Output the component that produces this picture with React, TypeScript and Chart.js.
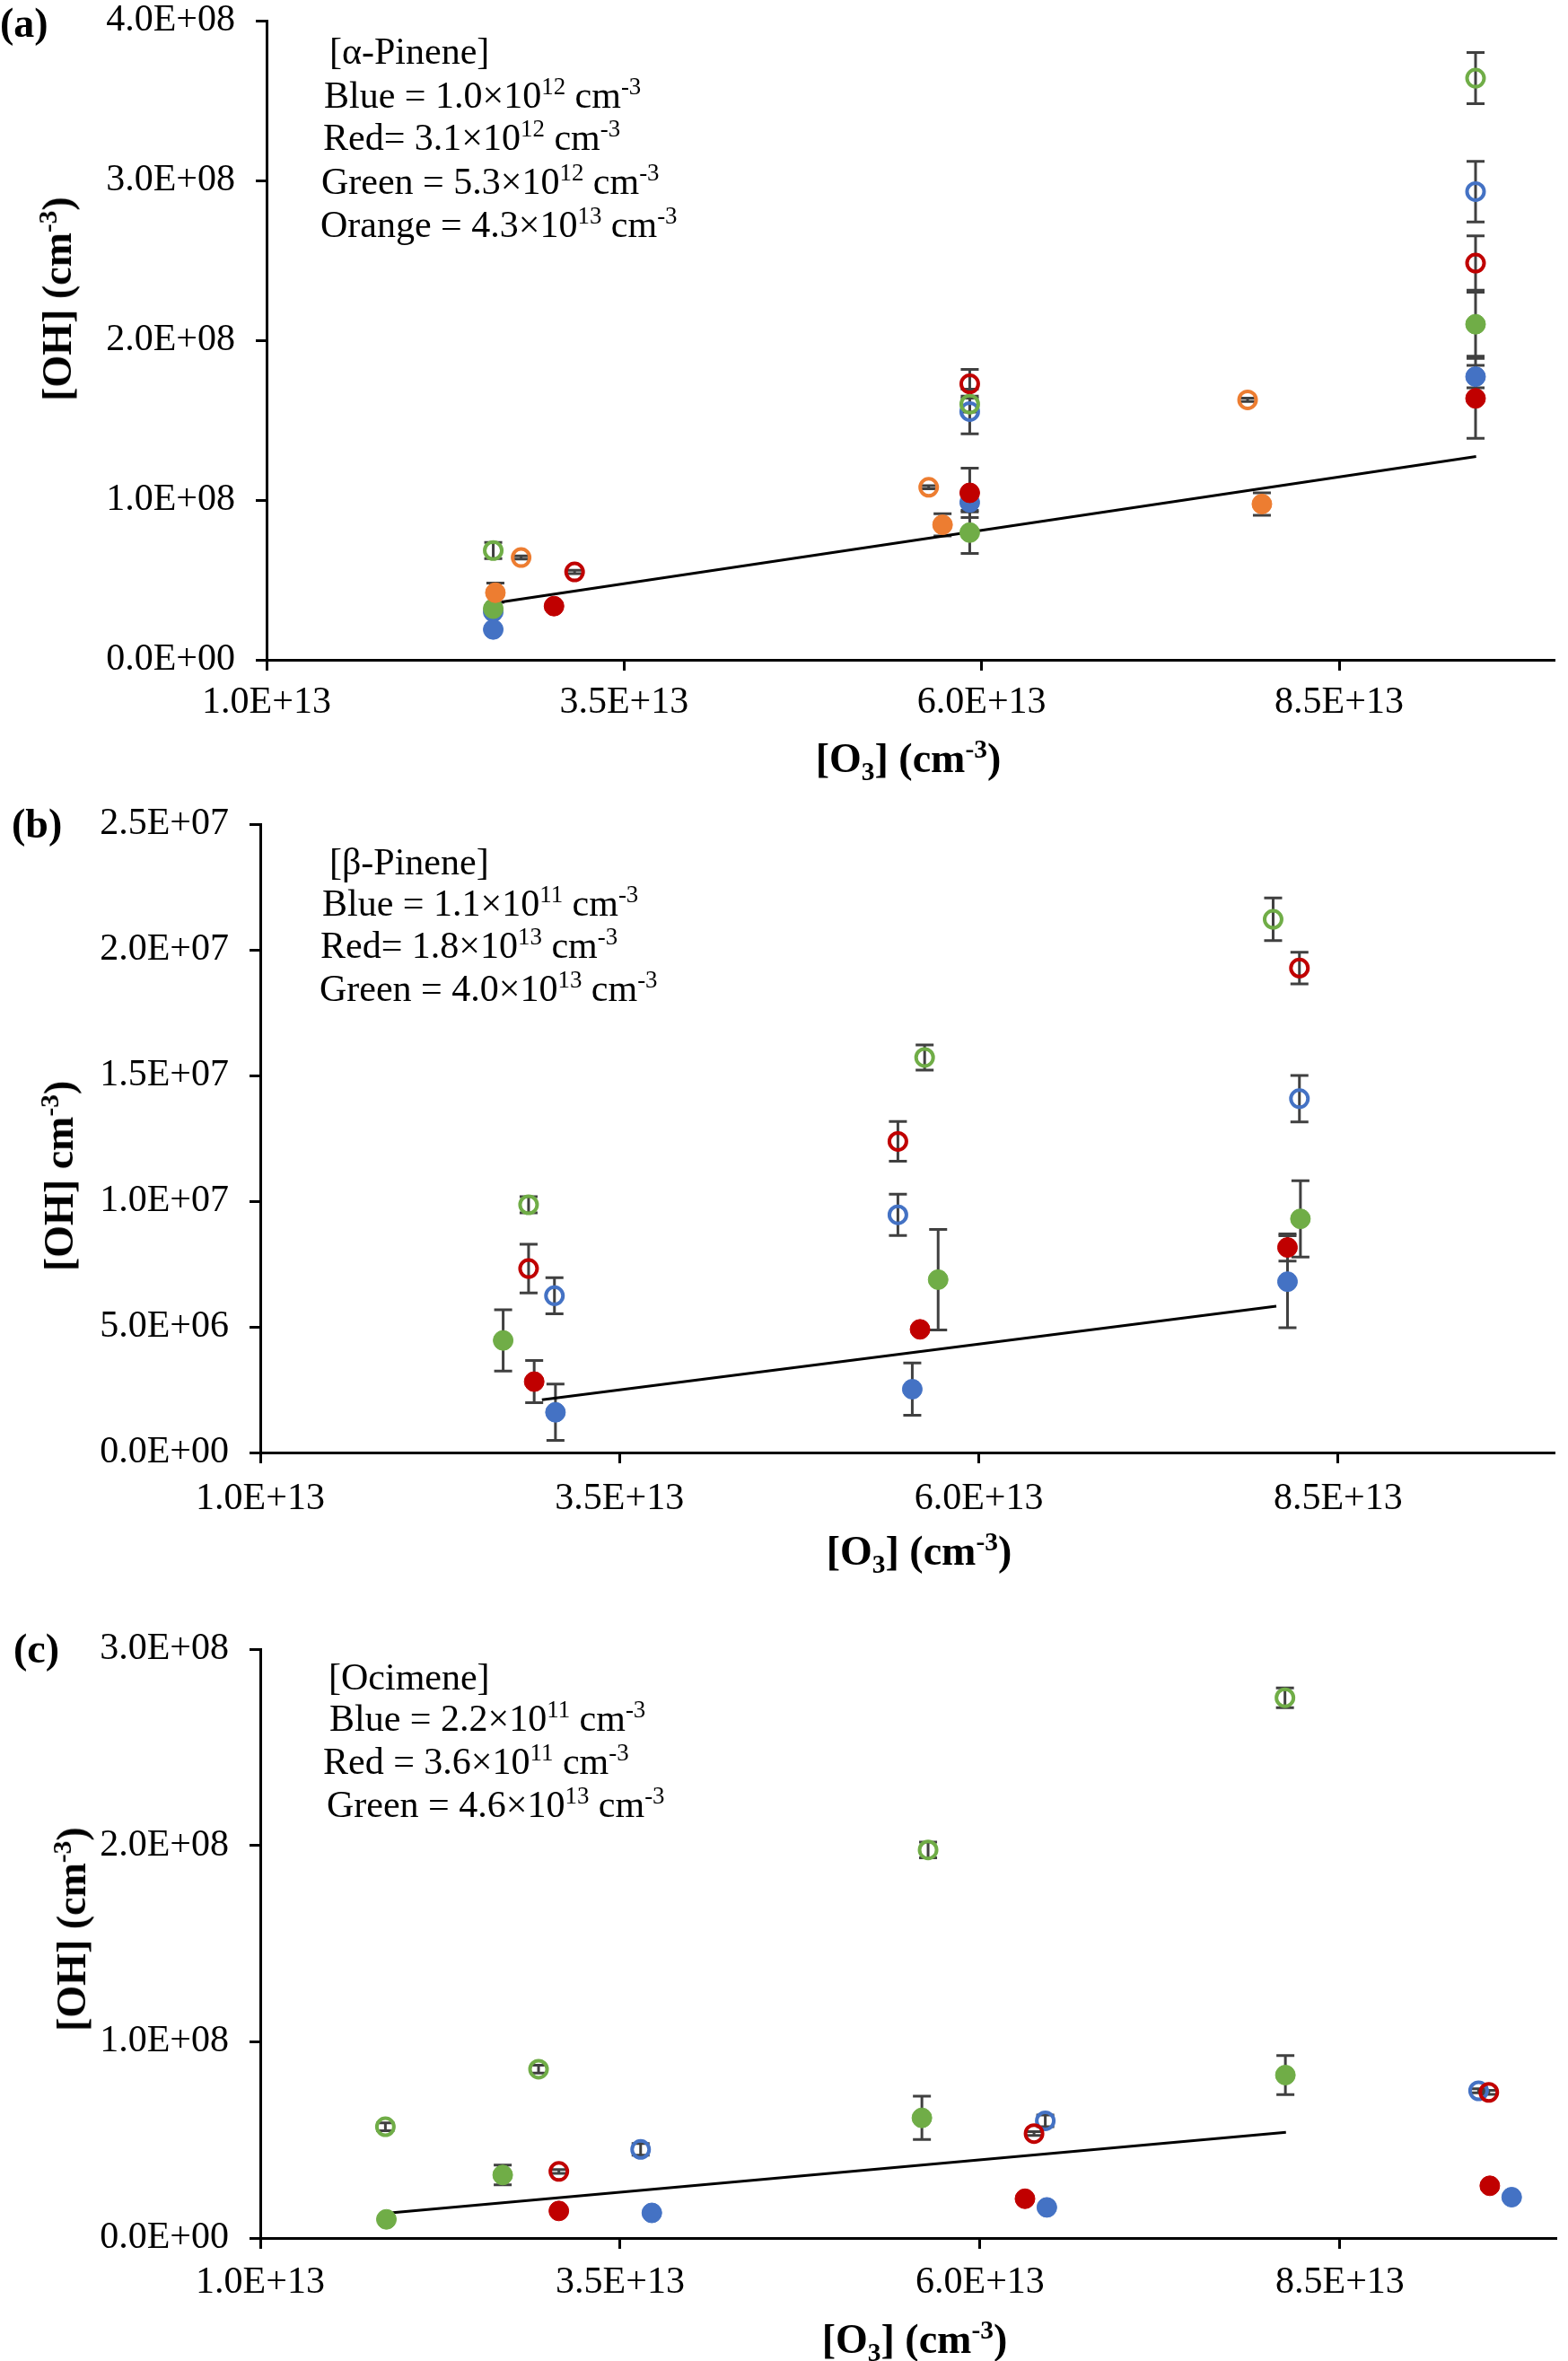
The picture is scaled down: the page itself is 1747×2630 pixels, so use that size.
import React, { useEffect, useRef } from 'react';
import { Chart, registerables } from 'chart.js';

Chart.register(...registerables);

// ---------------- DATA ----------------
const X_MIN = 1e13;
const X_MAX = 1e14;
const X_TICKS = [1e13, 3.5e13, 6e13, 8.5e13];

// Panel (a) alpha-pinene
const A_Y_TICKS = [0, 1e8, 2e8, 3e8, 4e8];
const A_BLUE_FILLED_X = [2.585e13, 2.585e13, 5.917e13, 9.454e13];
const A_BLUE_FILLED_Y = [0.30e8, 0.19e8, 0.985e8, 1.772e8];
const A_BLUE_FILLED_E = [0.01e8, 0.01e8, 0.05e8, 0.07e8];
const A_BLUE_OPEN_X = [5.917e13, 9.454e13];
const A_BLUE_OPEN_Y = [1.554e8, 2.93e8];
const A_BLUE_OPEN_E = [0.14e8, 0.19e8];
const A_RED_FILLED_X = [3.01e13, 5.917e13, 9.454e13];
const A_RED_FILLED_Y = [0.336e8, 1.045e8, 1.636e8];
const A_RED_FILLED_E = [0.02e8, 0.155e8, 0.25e8];
const A_RED_OPEN_X = [3.154e13, 5.917e13, 9.454e13];
const A_RED_OPEN_Y = [0.55e8, 1.727e8, 2.483e8];
const A_RED_OPEN_E = [0.01e8, 0.09e8, 0.17e8];
const A_GREEN_FILLED_X = [2.585e13, 5.917e13, 9.454e13];
const A_GREEN_FILLED_Y = [0.32e8, 0.796e8, 2.10e8];
const A_GREEN_FILLED_E = [0.02e8, 0.13e8, 0.2e8];
const A_GREEN_OPEN_X = [2.585e13, 5.917e13, 9.454e13];
const A_GREEN_OPEN_Y = [0.684e8, 1.60e8, 3.64e8];
const A_GREEN_OPEN_E = [0.05e8, 0.05e8, 0.16e8];
const A_ORANGE_FILLED_X = [2.6e13, 5.727e13, 7.96e13];
const A_ORANGE_FILLED_Y = [0.42e8, 0.845e8, 0.975e8];
const A_ORANGE_FILLED_E = [0.06e8, 0.07e8, 0.07e8];
const A_ORANGE_OPEN_X = [2.78e13, 5.63e13, 7.86e13];
const A_ORANGE_OPEN_Y = [0.64e8, 1.08e8, 1.627e8];
const A_ORANGE_OPEN_E = [0.01e8, 0.01e8, 0.01e8];
const A_TREND_X = [2.646e13, 9.458e13];
const A_TREND_Y = [0.362e8, 1.272e8];

// Panel (b) beta-pinene
const B_Y_TICKS = [0, 5e6, 1e7, 1.5e7, 2e7, 2.5e7];
const B_BLUE_FILLED_X = [3.054e13, 5.537e13, 8.148e13];
const B_BLUE_FILLED_Y = [1.6e6, 2.52e6, 6.8e6];
const B_BLUE_FILLED_E = [1.12e6, 1.04e6, 1.83e6];
const B_BLUE_OPEN_X = [3.047e13, 5.437e13, 8.231e13];
const B_BLUE_OPEN_Y = [6.24e6, 9.46e6, 14.08e6];
const B_BLUE_OPEN_E = [0.72e6, 0.82e6, 0.92e6];
const B_RED_FILLED_X = [2.906e13, 5.591e13, 8.148e13];
const B_RED_FILLED_Y = [2.82e6, 4.9e6, 8.16e6];
const B_RED_FILLED_E = [0.84e6, 0.05e6, 0.54e6];
const B_RED_OPEN_X = [2.867e13, 5.437e13, 8.231e13];
const B_RED_OPEN_Y = [7.32e6, 12.38e6, 19.28e6];
const B_RED_OPEN_E = [0.97e6, 0.79e6, 0.63e6];
const B_GREEN_FILLED_X = [2.69e13, 5.717e13, 8.238e13];
const B_GREEN_FILLED_Y = [4.46e6, 6.88e6, 9.3e6];
const B_GREEN_FILLED_E = [1.22e6, 2.0e6, 1.52e6];
const B_GREEN_OPEN_X = [2.867e13, 5.623e13, 8.048e13];
const B_GREEN_OPEN_Y = [9.86e6, 15.72e6, 21.22e6];
const B_GREEN_OPEN_E = [0.32e6, 0.5e6, 0.85e6];
const B_TREND_X = [2.96e13, 8.07e13];
const B_TREND_Y = [2.1e6, 5.82e6];

// Panel (c) ocimene
const C_Y_TICKS = [0, 1e8, 2e8, 3e8];
const C_BLUE_FILLED_X = [3.72e13, 6.464e13, 9.693e13];
const C_BLUE_FILLED_Y = [0.128e8, 0.156e8, 0.208e8];
const C_BLUE_FILLED_E = [0.005e8, 0.005e8, 0.005e8];
const C_BLUE_OPEN_X = [3.642e13, 6.453e13, 9.463e13];
const C_BLUE_OPEN_Y = [0.4515e8, 0.597e8, 0.75e8];
const C_BLUE_OPEN_E = [0.03e8, 0.03e8, 0.01e8];
const C_RED_FILLED_X = [3.074e13, 6.312e13, 9.541e13];
const C_RED_FILLED_Y = [0.138e8, 0.2e8, 0.266e8];
const C_RED_FILLED_E = [0.01e8, 0.01e8, 0.02e8];
const C_RED_OPEN_X = [3.074e13, 6.375e13, 9.534e13];
const C_RED_OPEN_Y = [0.339e8, 0.532e8, 0.742e8];
const C_RED_OPEN_E = [0.01e8, 0.01e8, 0.01e8];
const C_GREEN_FILLED_X = [1.876e13, 2.684e13, 5.596e13, 8.121e13];
const C_GREEN_FILLED_Y = [0.095e8, 0.321e8, 0.612e8, 0.83e8];
const C_GREEN_FILLED_E = [0.005e8, 0.05e8, 0.11e8, 0.10e8];
const C_GREEN_OPEN_X = [1.869e13, 2.933e13, 5.639e13, 8.118e13];
const C_GREEN_OPEN_Y = [0.567e8, 0.86e8, 1.977e8, 2.752e8];
const C_GREEN_OPEN_E = [0.02e8, 0.02e8, 0.04e8, 0.05e8];
const C_TREND_X = [1.904e13, 8.125e13];
const C_TREND_Y = [0.128e8, 0.539e8];

// ---------------- STYLE ----------------
const BLUE = '#4472C4';
const RED = '#C00000';
const GREEN = '#70AD47';
const ORANGE = '#ED7D31';
const SERIF = '"Liberation Serif", "Times New Roman", serif';
const W = 1747;

function fmtSci(v: number): string {
  if (v === 0) return '0.0E+00';
  const exp = Math.floor(Math.log10(Math.abs(v)) + 1e-9);
  const mant = v / Math.pow(10, exp);
  const e = String(Math.abs(exp)).padStart(2, '0');
  return mant.toFixed(1) + 'E' + (exp >= 0 ? '+' : '-') + e;
}

function pts(xs: number[], ys: number[]) {
  return xs.map((x, i) => ({ x, y: ys[i] }));
}

const ORDER: Record<string, number> = { [ORANGE]: 1, [GREEN]: 2, [RED]: 3, [BLUE]: 4 };

function series(color: string, filled: boolean, xs: number[], ys: number[], es: number[]) {
  return {
    data: pts(xs, ys),
    errors: es,
    showLine: false,
    order: ORDER[color],
    pointRadius: filled ? 11 : 9.5,
    pointHoverRadius: filled ? 11 : 9.5,
    pointBorderWidth: filled ? 1 : 4,
    pointHoverBorderWidth: filled ? 1 : 4,
    pointBackgroundColor: filled ? color : 'rgba(255,255,255,0)',
    pointBorderColor: color,
    backgroundColor: filled ? color : 'rgba(255,255,255,0)',
    borderColor: color,
  };
}

function trend(xs: number[], ys: number[]) {
  return {
    data: pts(xs, ys),
    showLine: true,
    order: 10,
    borderColor: '#000',
    borderWidth: 3,
    pointRadius: 0,
    pointHoverRadius: 0,
    fill: false,
  };
}

const errorBarPlugin = {
  id: 'errbars',
  beforeDatasetsDraw(chart: any) {
    const { ctx } = chart;
    const xs = chart.scales.x;
    const ys = chart.scales.y;
    ctx.save();
    ctx.strokeStyle = '#404040';
    ctx.lineWidth = 3;
    const cap = 10;
    chart.data.datasets.forEach((ds: any) => {
      if (!ds.errors) return;
      ds.data.forEach((p: any, i: number) => {
        const e = ds.errors[i];
        if (!e) return;
        const px = xs.getPixelForValue(p.x);
        const y1 = ys.getPixelForValue(p.y + e);
        const y2 = ys.getPixelForValue(p.y - e);
        ctx.beginPath();
        ctx.moveTo(px, y1);
        ctx.lineTo(px, y2);
        ctx.moveTo(px - cap, y1);
        ctx.lineTo(px + cap, y1);
        ctx.moveTo(px - cap, y2);
        ctx.lineTo(px + cap, y2);
        ctx.stroke();
      });
    });
    ctx.restore();
  },
};

type PanelSpec = {
  top: number;
  height: number;
  left: number;
  right: number;
  plotTop: number;
  plotBottom: number;
  xPad: number;
  yTicks: number[];
  datasets: any[];
};

function Panel({ spec }: { spec: PanelSpec }) {
  const ref = useRef<HTMLCanvasElement | null>(null);
  useEffect(() => {
    if (!ref.current) return;
    const H = spec.height;
    const tickFont = { family: SERIF, size: 42 };
    const grid = {
      display: true,
      drawOnChartArea: false,
      drawTicks: true,
      tickLength: 12,
      color: '#000',
      lineWidth: 3,
    };
    const chart = new Chart(ref.current, {
      type: 'scatter',
      data: { datasets: spec.datasets },
      options: {
        responsive: false,
        animation: false,
        devicePixelRatio: 1,
        events: [],
        layout: { padding: { left: 0, right: W - spec.right, top: spec.plotTop, bottom: 0 } },
        plugins: { legend: { display: false }, tooltip: { enabled: false } },
        scales: {
          x: {
            type: 'linear',
            min: X_MIN,
            max: X_MAX,
            afterBuildTicks: (s: any) => {
              s.ticks = X_TICKS.map((v) => ({ value: v }));
            },
            afterFit: (s: any) => {
              s.height = H - spec.plotBottom;
            },
            grid,
            border: { display: true, color: '#000', width: 3 },
            ticks: {
              font: tickFont,
              color: '#000',
              padding: spec.xPad,
              autoSkip: false,
              maxRotation: 0,
              minRotation: 0,
              callback: (v: any) => fmtSci(Number(v)),
            },
          },
          y: {
            type: 'linear',
            min: spec.yTicks[0],
            max: spec.yTicks[spec.yTicks.length - 1],
            afterBuildTicks: (s: any) => {
              s.ticks = spec.yTicks.map((v) => ({ value: v }));
            },
            afterFit: (s: any) => {
              s.width = spec.left;
            },
            grid,
            border: { display: true, color: '#000', width: 3 },
            ticks: {
              font: tickFont,
              color: '#000',
              padding: 23,
              autoSkip: false,
              callback: (v: any) => fmtSci(Number(v)),
            },
          },
        },
      } as any,
      plugins: [errorBarPlugin],
    });
    return () => chart.destroy();
  }, [spec]);
  return (
    <canvas
      ref={ref}
      width={W}
      height={spec.height}
      style={{ position: 'absolute', left: 0, top: spec.top, width: W, height: spec.height }}
    />
  );
}

const PANEL_A: PanelSpec = {
  top: -40,
  height: 910,
  left: 297,
  right: 1731,
  plotTop: 63,
  plotBottom: 775,
  xPad: 11,
  yTicks: A_Y_TICKS,
  datasets: [
    trend(A_TREND_X, A_TREND_Y),
    series(BLUE, true, A_BLUE_FILLED_X, A_BLUE_FILLED_Y, A_BLUE_FILLED_E),
    series(BLUE, false, A_BLUE_OPEN_X, A_BLUE_OPEN_Y, A_BLUE_OPEN_E),
    series(RED, true, A_RED_FILLED_X, A_RED_FILLED_Y, A_RED_FILLED_E),
    series(RED, false, A_RED_OPEN_X, A_RED_OPEN_Y, A_RED_OPEN_E),
    series(GREEN, true, A_GREEN_FILLED_X, A_GREEN_FILLED_Y, A_GREEN_FILLED_E),
    series(GREEN, false, A_GREEN_OPEN_X, A_GREEN_OPEN_Y, A_GREEN_OPEN_E),
    series(ORANGE, true, A_ORANGE_FILLED_X, A_ORANGE_FILLED_Y, A_ORANGE_FILLED_E),
    series(ORANGE, false, A_ORANGE_OPEN_X, A_ORANGE_OPEN_Y, A_ORANGE_OPEN_E),
  ],
};

const PANEL_B: PanelSpec = {
  top: 870,
  height: 890,
  left: 290,
  right: 1731,
  plotTop: 47,
  plotBottom: 748,
  xPad: 15,
  yTicks: B_Y_TICKS,
  datasets: [
    trend(B_TREND_X, B_TREND_Y),
    series(BLUE, true, B_BLUE_FILLED_X, B_BLUE_FILLED_Y, B_BLUE_FILLED_E),
    series(BLUE, false, B_BLUE_OPEN_X, B_BLUE_OPEN_Y, B_BLUE_OPEN_E),
    series(RED, true, B_RED_FILLED_X, B_RED_FILLED_Y, B_RED_FILLED_E),
    series(RED, false, B_RED_OPEN_X, B_RED_OPEN_Y, B_RED_OPEN_E),
    series(GREEN, true, B_GREEN_FILLED_X, B_GREEN_FILLED_Y, B_GREEN_FILLED_E),
    series(GREEN, false, B_GREEN_OPEN_X, B_GREEN_OPEN_Y, B_GREEN_OPEN_E),
  ],
};

const PANEL_C: PanelSpec = {
  top: 1760,
  height: 870,
  left: 290,
  right: 1745,
  plotTop: 77,
  plotBottom: 733,
  xPad: 13,
  yTicks: C_Y_TICKS,
  datasets: [
    trend(C_TREND_X, C_TREND_Y),
    series(BLUE, true, C_BLUE_FILLED_X, C_BLUE_FILLED_Y, C_BLUE_FILLED_E),
    series(BLUE, false, C_BLUE_OPEN_X, C_BLUE_OPEN_Y, C_BLUE_OPEN_E),
    series(RED, true, C_RED_FILLED_X, C_RED_FILLED_Y, C_RED_FILLED_E),
    series(RED, false, C_RED_OPEN_X, C_RED_OPEN_Y, C_RED_OPEN_E),
    series(GREEN, true, C_GREEN_FILLED_X, C_GREEN_FILLED_Y, C_GREEN_FILLED_E),
    series(GREEN, false, C_GREEN_OPEN_X, C_GREEN_OPEN_Y, C_GREEN_OPEN_E),
  ],
};

// ---------------- TEXT OVERLAYS ----------------
const Sup = ({ children }: { children: React.ReactNode }) => (
  <span style={{ fontSize: '0.64em', position: 'relative', top: '-0.55em', lineHeight: 0 }}>{children}</span>
);
const Sub = ({ children }: { children: React.ReactNode }) => (
  <span style={{ fontSize: '0.64em', position: 'relative', top: '0.3em', lineHeight: 0 }}>{children}</span>
);

const ANN = 42;
function Line({ x, cy, children }: { x: number; cy: number; children: React.ReactNode }) {
  const lh = 50;
  return (
    <div
      style={{
        position: 'absolute',
        left: x,
        top: cy - lh / 2,
        height: lh,
        lineHeight: lh + 'px',
        fontSize: ANN,
        fontFamily: SERIF,
        whiteSpace: 'nowrap',
        color: '#000',
      }}
    >
      {children}
    </div>
  );
}

function Conc({ name, eq, mant, exp }: { name: string; eq: string; mant: string; exp: string }) {
  return (
    <>
      {name}
      {eq}
      {mant}×10<Sup>{exp}</Sup> cm<Sup>-3</Sup>
    </>
  );
}

function PanelLabel({ x, cy, text }: { x: number; cy: number; text: string }) {
  return (
    <div
      style={{
        position: 'absolute',
        left: x,
        top: cy - 28,
        height: 56,
        lineHeight: '56px',
        fontSize: 46,
        fontWeight: 'bold',
        fontFamily: SERIF,
        color: '#000',
        whiteSpace: 'nowrap',
      }}
    >
      {text}
    </div>
  );
}

function YTitle({ cx, cy, paren }: { cx: number; cy: number; paren: boolean }) {
  return (
    <div
      style={{
        position: 'absolute',
        left: cx,
        top: cy,
        transform: 'translate(-50%, -50%) rotate(-90deg)',
        fontSize: 46,
        fontWeight: 'bold',
        fontFamily: SERIF,
        whiteSpace: 'nowrap',
        lineHeight: '56px',
        color: '#000',
      }}
    >
      [OH] {paren ? '(' : ''}cm<Sup>-3</Sup>)
    </div>
  );
}

function XTitle({ cx, cy }: { cx: number; cy: number }) {
  return (
    <div
      style={{
        position: 'absolute',
        left: cx,
        top: cy,
        transform: 'translate(-50%, -50%)',
        fontSize: 46,
        fontWeight: 'bold',
        fontFamily: SERIF,
        whiteSpace: 'nowrap',
        lineHeight: '56px',
        color: '#000',
      }}
    >
      [O<Sub>3</Sub>] (cm<Sup>-3</Sup>)
    </div>
  );
}

export default function App() {
  return (
    <div style={{ position: 'absolute', left: 0, top: 0, width: W, height: 2630, background: '#fff', overflow: 'hidden' }}>
      <Panel spec={PANEL_A} />
      <Panel spec={PANEL_B} />
      <Panel spec={PANEL_C} />

      {/* Panel (a) */}
      <PanelLabel x={0} cy={26} text="(a)" />
      <YTitle cx={64} cy={333} paren={true} />
      <XTitle cx={1012} cy={845} />
      <Line x={367} cy={57}>[α-Pinene]</Line>
      <Line x={361} cy={106}><Conc name="Blue" eq=" = " mant="1.0" exp="12" /></Line>
      <Line x={360} cy={153}><Conc name="Red" eq="= " mant="3.1" exp="12" /></Line>
      <Line x={358} cy={202}><Conc name="Green" eq=" = " mant="5.3" exp="12" /></Line>
      <Line x={357} cy={250}><Conc name="Orange" eq=" = " mant="4.3" exp="13" /></Line>

      {/* Panel (b) */}
      <PanelLabel x={13} cy={918} text="(b)" />
      <YTitle cx={66} cy={1310} paren={false} />
      <XTitle cx={1024} cy={1728} />
      <Line x={367} cy={960}>[β-Pinene]</Line>
      <Line x={359} cy={1006}><Conc name="Blue" eq=" = " mant="1.1" exp="11" /></Line>
      <Line x={357} cy={1053}><Conc name="Red" eq="= " mant="1.8" exp="13" /></Line>
      <Line x={356} cy={1101}><Conc name="Green" eq=" = " mant="4.0" exp="13" /></Line>

      {/* Panel (c) */}
      <PanelLabel x={15} cy={1837} text="(c)" />
      <YTitle cx={80} cy={2149} paren={true} />
      <XTitle cx={1019} cy={2606} />
      <Line x={366} cy={1868}>[Ocimene]</Line>
      <Line x={367} cy={1914}><Conc name="Blue" eq=" = " mant="2.2" exp="11" /></Line>
      <Line x={360} cy={1962}><Conc name="Red" eq=" = " mant="3.6" exp="11" /></Line>
      <Line x={364} cy={2010}><Conc name="Green" eq=" = " mant="4.6" exp="13" /></Line>
    </div>
  );
}
